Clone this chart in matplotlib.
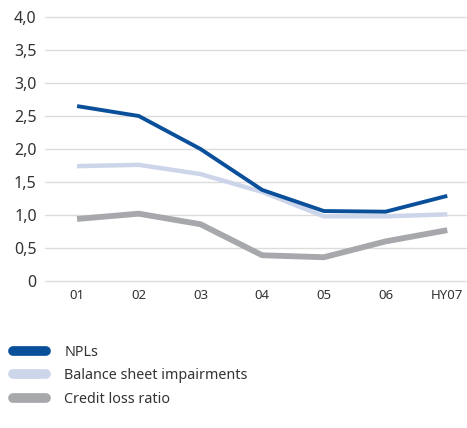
import matplotlib.pyplot as plt
from matplotlib.ticker import FuncFormatter

plt.rcParams['font.family'] = ['Noto Sans', 'DejaVu Sans']

years = ['01', '02', '03', '04', '05', '06', 'HY07']
npls = [2.65, 2.50, 2.00, 1.38, 1.06, 1.05, 1.29]
impairments = [1.74, 1.76, 1.62, 1.35, 0.98, 0.98, 1.01]
credit_loss = [0.94, 1.02, 0.86, 0.39, 0.36, 0.60, 0.77]

c_npl = '#0a4f9a'
c_imp = '#cdd5ea'
c_cl = '#a7a8ab'

fig = plt.figure(figsize=(4.67, 4.28), dpi=100)
ax = fig.add_axes([45 / 467, 1 - 281 / 428, 422 / 467, 264 / 428])

x = range(len(years))
ax.plot(x, credit_loss, color=c_cl, lw=4.2, solid_capstyle='butt', label='Credit loss ratio', zorder=3)
ax.plot(x, impairments, color=c_imp, lw=3.2, solid_capstyle='butt', label='Balance sheet impairments', zorder=4)
ax.plot(x, npls, color=c_npl, lw=2.8, solid_capstyle='butt', label='NPLs', zorder=5)

ax.set_xlim(-0.52, 6.32)
ax.set_ylim(0, 4.0)
ax.set_yticks([0, 0.5, 1.0, 1.5, 2.0, 2.5, 3.0, 3.5, 4.0])
ax.yaxis.set_major_formatter(FuncFormatter(lambda v, p: '0' if v == 0 else f'{v:.1f}'.replace('.', ',')))
ax.set_xticks(list(x))
ax.set_xticklabels(years)
ax.grid(axis='y', color='#dcdcdc', lw=1)
for gl in ax.get_ygridlines():
    gl.set_clip_on(False)
ax.set_axisbelow(True)
for s in ax.spines.values():
    s.set_visible(False)
ax.tick_params(axis='y', length=0, pad=6, labelsize=11.5, labelcolor='#333333')
ax.tick_params(axis='x', length=0, pad=6, labelsize=9.5, labelcolor='#333333')

h, l = ax.get_legend_handles_labels()
leg = fig.legend(h[::-1], l[::-1], loc='upper left', bbox_to_anchor=(0.0, 1 - 332 / 428),
                 frameon=False, fontsize=10.3, handlelength=2.3, handletextpad=1.3,
                 labelspacing=0.6, labelcolor='#333333')
for line in leg.get_lines():
    line.set_linewidth(7)
    line.set_solid_capstyle('round')

fig.savefig('out.png', dpi=100)
